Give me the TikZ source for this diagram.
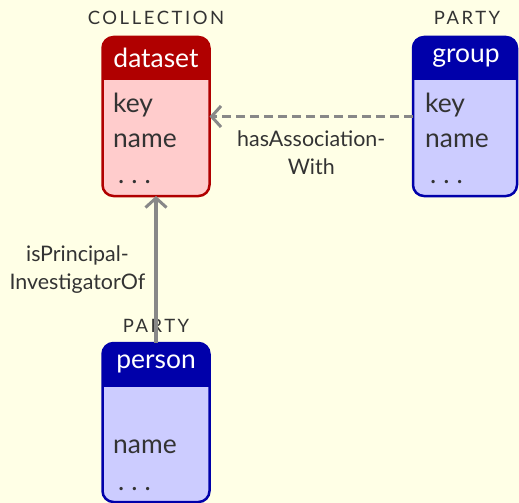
\documentclass[tikz,border=0pt]{standalone}
\usepackage{fontspec}
\setmainfont{Lato}
\newfontfamily\stereofont[LetterSpace=14]{Lato}
\usetikzlibrary{arrows.meta}
\definecolor{bg}{RGB}{255,255,230}
\definecolor{redhdr}{RGB}{176,0,0}
\definecolor{redbody}{RGB}{255,204,204}
\definecolor{bluehdr}{RGB}{0,0,170}
\definecolor{bluebody}{RGB}{204,204,255}
\definecolor{txt}{RGB}{51,51,51}
\definecolor{edgecol}{RGB}{136,136,136}
\newcommand\spdots{.\hspace{7bp}.\hspace{7bp}.}
\tikzset{
  boxshape/.style={draw=none, inner sep=0pt, outer sep=0pt, minimum width=107bp, minimum height=159bp},
  boxborder/.style={line width=2.5bp, rounded corners=11bp},
  hdrtext/.style={anchor=base, text=white, font=\fontsize{26.5}{30}\selectfont, inner sep=0pt},
  rowtext/.style={anchor=base west, text=txt, font=\fontsize{26.5}{30}\selectfont, inner sep=0pt},
  stereo/.style={anchor=base, text=txt, font=\stereofont\fontsize{18.5}{20}\selectfont, inner sep=0pt},
  elabel/.style={text=txt, font=\fontsize{21.5}{27.5}\selectfont, align=center, inner sep=0pt},
  relarrow/.style={edgecol, line width=3.2bp, -{Straight Barb[length=9.5bp,width=21bp,line width=3bp]}},
}
\newcommand\drawumlbox[4]{% name, header colour, body colour, header height
  \fill[#3, rounded corners=11bp] (#1.north west) rectangle (#1.south east);
  \begin{scope}
    \clip[rounded corners=11bp] (#1.north west) rectangle (#1.south east);
    \fill[#2] (#1.north west) rectangle ([yshift=-#4]#1.north east);
  \end{scope}
  \draw[#2, boxborder] (#1.north west) rectangle (#1.south east);
}
\begin{document}
\begin{tikzpicture}[x=1bp,y=-1bp]
\fill[bg] (0,0) rectangle (519,503);
\useasboundingbox (0,0) rectangle (519,503);

% boxes
\node[boxshape] (dataset) at (156,116.5) {};
\node[boxshape, minimum width=104bp] (group) at (465,116.5) {};
\node[boxshape] (person) at (156,422.5) {};

\drawumlbox{dataset}{redhdr}{redbody}{43bp}
\drawumlbox{group}{bluehdr}{bluebody}{43bp}
\drawumlbox{person}{bluehdr}{bluebody}{44bp}

% headers
\node[hdrtext] (datasettitle) at (156,68) {dataset};
\node[hdrtext] (grouptitle) at (466,63) {group};
\node[hdrtext] (persontitle) at (156,368) {person};

% rows
\node[rowtext] (dkey) at (113,113) {key};
\node[rowtext] (dname) at (113,148) {name};
\node[rowtext] (ddots) at (118,184) {\spdots};
\node[rowtext] (gkey) at (425,113) {key};
\node[rowtext] (gname) at (425,148) {name};
\node[rowtext] (gdots) at (430,184) {\spdots};
\node[rowtext] (pname) at (113,453) {name};
\node[rowtext] (pdots) at (118,490) {\spdots};

% stereotypes
\node[stereo] (collection) at (156,25) {COLLECTION};
\node[stereo] (party1) at (467,25) {PARTY};
\node[stereo] (party2) at (156,332) {PARTY};

% relations
\draw[relarrow, dash pattern=on 9bp off 5bp] (group) -- (dataset)
  node[elabel, midway, anchor=north, yshift=-13bp] (hasassoc) {hasAssociation-\\With};
\draw[relarrow] (person.north) -- (dataset.south)
  node[elabel, midway, anchor=east, xshift=-9bp] (ispi) {isPrincipal-\\InvestigatorOf};
\end{tikzpicture}
\end{document}
